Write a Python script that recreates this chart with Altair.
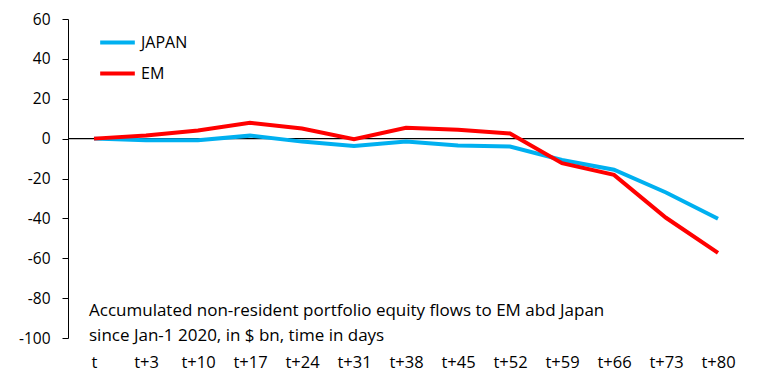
import altair as alt
import pandas as pd

cats = ["t", "t+3", "t+10", "t+17", "t+24", "t+31", "t+38", "t+45", "t+52", "t+59", "t+66", "t+73", "t+80"]
japan = [0, -0.8, -0.8, 1.5, -1.5, -3.7, -1.5, -3.5, -4.0, -10.7, -15.6, -27.0, -40.2]
em = [0, 1.6, 4.1, 7.9, 5.1, -0.3, 5.4, 4.5, 2.6, -12.3, -18.2, -39.7, -57.3]
series = ["JAPAN", "EM"]
colors = ["#00B0F0", "#FF0000"]
y_ticks = [-100, -80, -60, -40, -20, 0, 20, 40, 60]
note_lines = ["Accumulated non-resident portfolio equity flows to EM abd Japan",
              "since Jan-1 2020, in $ bn, time in days"]
note_y = [-86.7, -99.0]

FONT = "Open Sans"

rows = []
for c, j, e in zip(cats, japan, em):
    rows.append({"cat": c, "series": "JAPAN", "value": j})
    rows.append({"cat": c, "series": "EM", "value": e})
df = pd.DataFrame(rows)

notes = pd.DataFrame({"cat": [cats[0]] * 2, "value": note_y, "text": note_lines})

xenc = alt.X("cat:N", sort=cats, title=None,
             scale=alt.Scale(type="point", padding=0.5),
             axis=alt.Axis(domain=False, ticks=False, tickSize=0, labelAngle=0,
                           labelPadding=16, labelFontSize=16.5, labelFont=FONT,
                           labelColor="black", labelOverlap=False))
yenc = alt.Y("value:Q", title=None,
             scale=alt.Scale(domain=[-100, 60], nice=False, zero=False),
             axis=alt.Axis(values=y_ticks, tickCount=20, grid=False,
                           domainColor="black", tickColor="black", tickSize=6,
                           labelExpr="toString(datum.value)", labelOverlap=False,
                           labelPadding=12, labelFontSize=15.5, labelFont=FONT,
                           labelColor="black"))

lines = alt.Chart(df).mark_line(strokeWidth=4).encode(
    x=xenc, y=yenc,
    color=alt.Color("series:N", sort=series,
                    scale=alt.Scale(domain=series, range=colors),
                    legend=alt.Legend(title=None, orient="none", legendX=30, legendY=4,
                                      symbolType="stroke", symbolSize=1200,
                                      symbolStrokeWidth=4, rowPadding=3, padding=0,
                                      labelFontSize=16, labelFont=FONT, labelColor="black",
                                      labelOffset=4)),
)

zero = alt.Chart(pd.DataFrame({"v": [0]})).mark_rule(color="black", strokeWidth=1.2).encode(
    y=alt.Y("v:Q")
)

note = alt.Chart(notes).mark_text(align="left", baseline="middle", dx=-5,
                                  fontSize=17, font=FONT, color="black").encode(
    x=alt.X("cat:N", sort=cats), y=alt.Y("value:Q"), text="text:N"
)

chart = alt.layer(zero, lines, note).properties(
    width=676, height=319,
    padding={"left": 60, "top": 11, "right": 6, "bottom": 34},
    autosize=alt.AutoSizeParams(type="none"),
).configure_view(stroke=None)

chart.save("out.html", embed_options={"renderer": "svg", "actions": False})
